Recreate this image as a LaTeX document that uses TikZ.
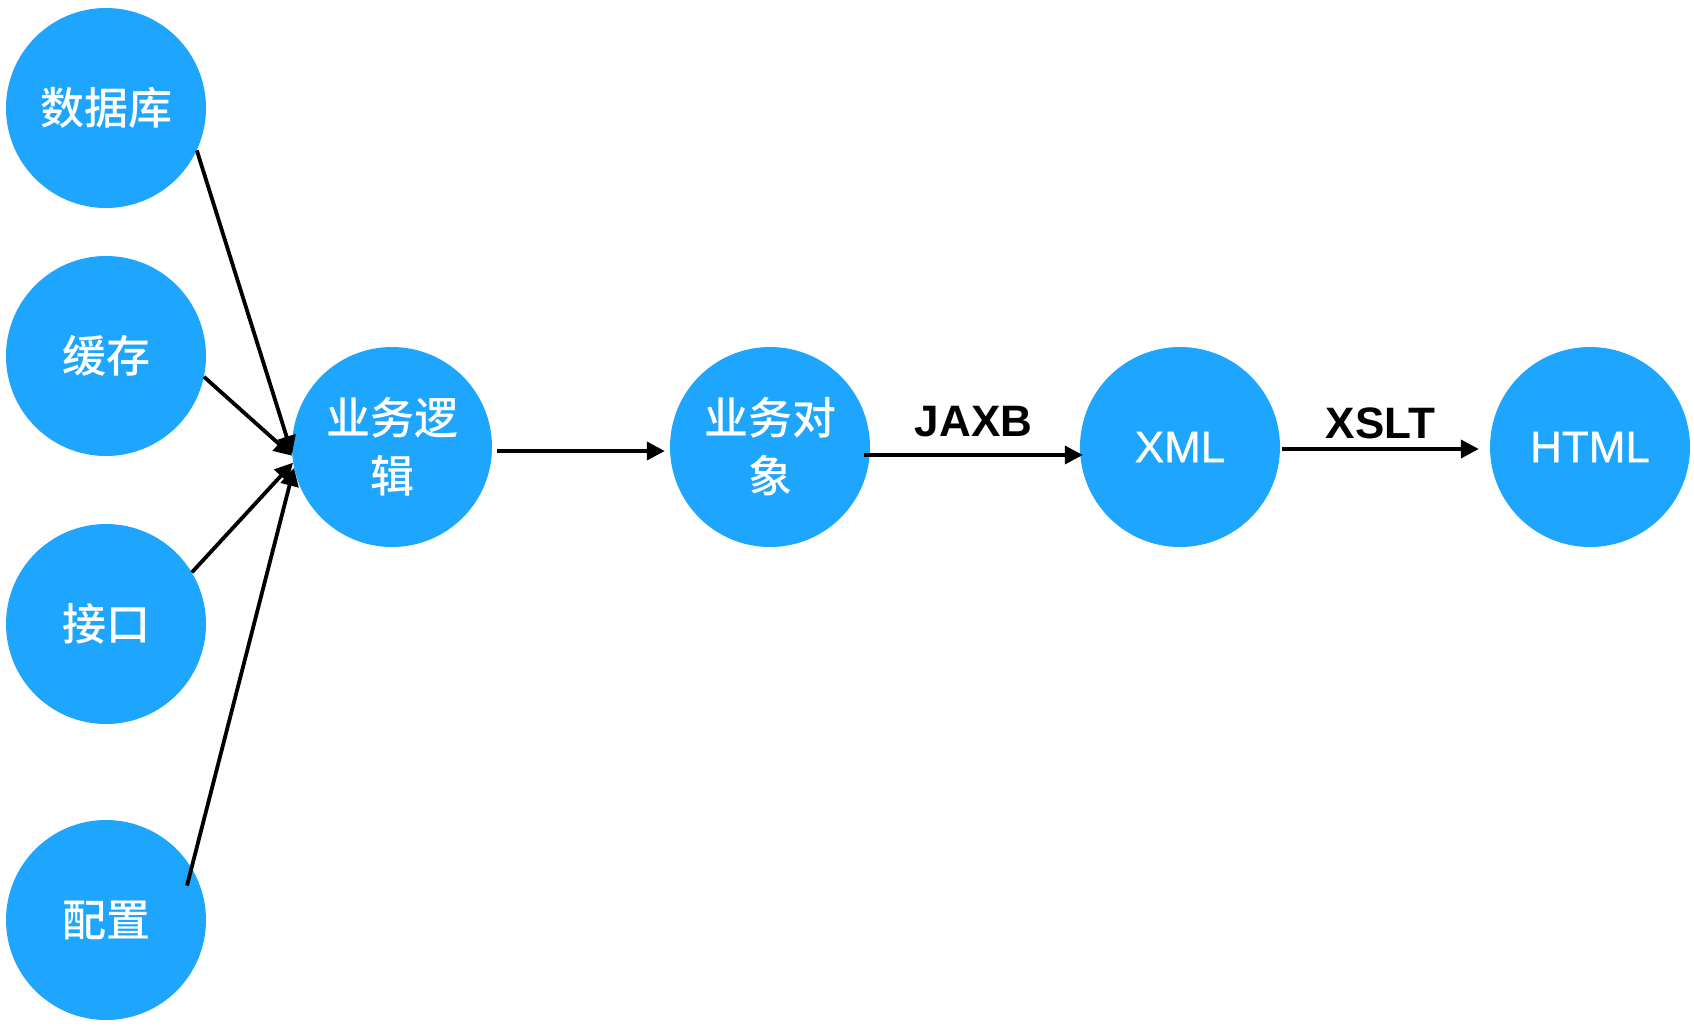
\documentclass[tikz,border=0pt]{standalone}
\usepackage{fontspec}
\setmainfont{Liberation Sans}
\newfontfamily\cjk{Noto Sans CJK SC Medium}
\newfontfamily\latinmed[FakeBold=0.8]{Liberation Sans}
\usetikzlibrary{arrows.meta}
\definecolor{nodeblue}{RGB}{30,165,253}
\tikzset{
  ball/.style={circle, fill=nodeblue, draw=none, minimum size=200pt, inner sep=0pt,
    text=white, align=center, font=\cjk\fontsize{44}{58}\selectfont},
  latinball/.style={ball, font=\latinmed\fontsize{44}{58}\selectfont},
  arr/.style={line width=3.8pt, -{Triangle[length=18pt,width=18pt]}},
  lbl/.style={font=\bfseries\fontsize{44}{50}\selectfont, text=black, inner sep=0pt}
}
\begin{document}
\begin{tikzpicture}[x=1pt,y=1pt]
\useasboundingbox (0,0) rectangle (1694,-1028);
\node[ball] (db) at (106,-108) {数据库};
\node[ball] (cache) at (106,-356) {缓存};
\node[ball] (api) at (106,-624) {接口};
\node[ball] (cfg) at (106,-920) {配置};
\node[ball] (logic) at (392,-447) {业务逻\\辑};
\node[ball] (obj) at (770,-447) {业务对\\象};
\node[latinball] (xml) at (1180,-447) {XML};
\node[latinball] (html) at (1590,-447) {HTML};

\draw[arr] (db.-25) -- (logic.184);
\draw[arr] (cache.-12) -- (logic.185);
\draw[arr] (api.31) -- (logic.189);
\draw[arr] ([shift={(23:88pt)}]cfg.center) -- (logic.192);

\draw[arr] ([shift={(5pt,-4pt)}]logic.east) -- ([shift={(-5pt,-4pt)}]obj.west);
\draw[arr] ([shift={(-6pt,-8pt)}]obj.east) -- node[lbl, yshift=33pt] (jaxb) {JAXB} ([shift={(3pt,-8pt)}]xml.west);
\draw[arr] ([shift={(2pt,-2pt)}]xml.east) -- node[lbl, yshift=26pt] (xslt) {XSLT} ([shift={(-11pt,-2pt)}]html.west);
\end{tikzpicture}
\end{document}
